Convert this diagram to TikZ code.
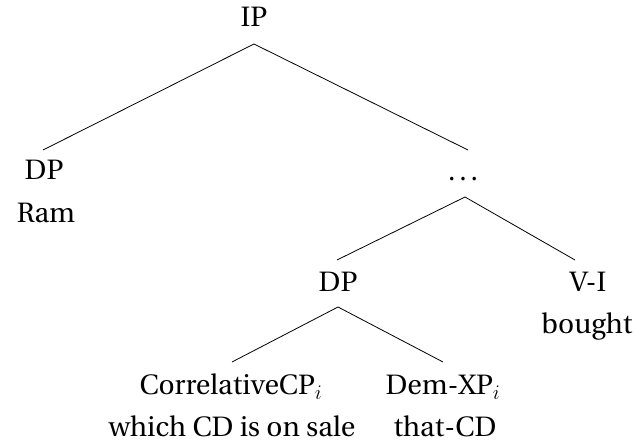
\documentclass[tikz,border=0pt]{standalone}
\usepackage[T1]{fontenc}
\renewcommand{\rmdefault}{put}
\begin{document}
\begin{tikzpicture}[x=1pt,y=-1pt,
  lbl/.style={font=\fontsize{28}{33}\selectfont, inner sep=0pt, anchor=base},
  br/.style={line width=0.8pt}]
\useasboundingbox (0,0) rectangle (634,443);
\node[lbl] (IP) at (254,27) {IP};
\node[lbl] (DP1) at (44,180) {DP};
\node[lbl] (Ram) at (46,223) {Ram};
\node[lbl] (dots) at (465,181) {\dots};
\node[lbl] (DP2) at (338,292) {DP};
\node[lbl] (VI) at (588,292) {V-I};
\node[lbl] (bought) at (587,334) {bought};
\node[lbl] (CCP) at (231,394) {CorrelativeCP$_i$};
\node[lbl] (DXP) at (443,394) {Dem-XP$_i$};
\node[lbl] (which) at (232,436) {which CD is on sale};
\node[lbl] (thatCD) at (445,436) {that-CD};
\draw[br] ([yshift=-17]IP.base) -- ([xshift=-1,yshift=30]DP1.base);
\draw[br] ([yshift=-17]IP.base) -- ([xshift=3,yshift=31]dots.base);
\draw[br] ([yshift=-16]dots.base) -- ([xshift=-1,yshift=32]DP2.base);
\draw[br] ([yshift=-16]dots.base) -- ([xshift=-13,yshift=32]VI.base);
\draw[br] ([yshift=-15]DP2.base) -- ([xshift=1,yshift=32]CCP.base);
\draw[br] ([yshift=-15]DP2.base) -- ([xshift=0,yshift=32]DXP.base);
\end{tikzpicture}
\end{document}
